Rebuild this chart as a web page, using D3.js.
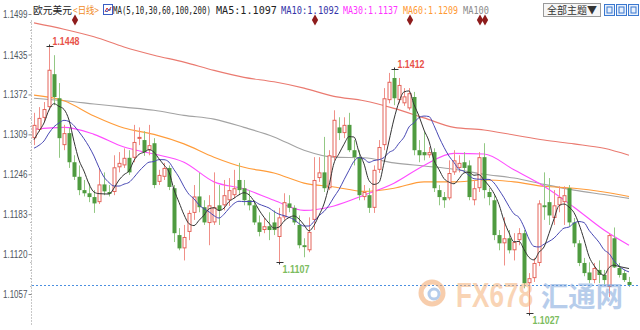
<!DOCTYPE html>
<html>
<head>
<meta charset="utf-8">
<script src="https://cdn.jsdelivr.net/npm/d3@7"></script>
<style>
body { margin: 0; background: #fff; }
svg { display: block; font-family: "Liberation Sans", Arial, sans-serif; }
</style>
</head>
<body>
<div id="chart"></div>
<script>
// EUR/USD daily candles, oldest first: [open, high, low, close]
var candles = [
[1.1303,1.1343,1.1292,1.1324],[1.1316,1.1352,1.1313,1.1335],[1.1335,1.1360,1.1328,1.1349],[1.1352,1.1448,1.1347,1.1411],
[1.1404,1.1434,1.1355,1.1368],[1.1366,1.1390,1.1272,1.1303],[1.1292,1.1324,1.1284,1.1311],[1.1311,1.1319,1.1256,1.1265],
[1.1265,1.1276,1.1237,1.1242],[1.1242,1.1260,1.1213,1.1221],[1.1221,1.1237,1.1211,1.1216],[1.1216,1.1232,1.1202,1.1210],
[1.1210,1.1221,1.1185,1.1200],[1.1202,1.1256,1.1199,1.1230],[1.1230,1.1249,1.1213,1.1219],[1.1218,1.1229,1.1211,1.1215],
[1.1218,1.1276,1.1213,1.1257],[1.1257,1.1281,1.1249,1.1264],[1.1260,1.1287,1.1256,1.1272],[1.1272,1.1284,1.1245,1.1249],
[1.1272,1.1324,1.1265,1.1297],[1.1302,1.1320,1.1292,1.1305],[1.1300,1.1314,1.1275,1.1281],[1.1284,1.1324,1.1276,1.1292],
[1.1295,1.1303,1.1224,1.1229],[1.1234,1.1253,1.1229,1.1245],[1.1242,1.1264,1.1237,1.1256],[1.1256,1.1260,1.1221,1.1226],
[1.1224,1.1229,1.1139,1.1153],[1.1150,1.1161,1.1126,1.1129],[1.1129,1.1166,1.1110,1.1147],[1.1155,1.1189,1.1142,1.1185],
[1.1185,1.1229,1.1174,1.1211],[1.1211,1.1248,1.1186,1.1194],[1.1194,1.1205,1.1166,1.1170],[1.1169,1.1213,1.1134,1.1197],
[1.1170,1.1249,1.1166,1.1194],[1.1197,1.1229,1.1166,1.1189],[1.1197,1.1237,1.1189,1.1213],[1.1205,1.1240,1.1196,1.1221],
[1.1213,1.1253,1.1208,1.1224],[1.1237,1.1264,1.1213,1.1221],[1.1224,1.1237,1.1197,1.1205],[1.1205,1.1221,1.1189,1.1197],
[1.1197,1.1205,1.1166,1.1170],[1.1170,1.1181,1.1148,1.1155],[1.1158,1.1177,1.1153,1.1164],[1.1164,1.1186,1.1142,1.1158],
[1.1170,1.1189,1.1150,1.1158],[1.1147,1.1193,1.1107,1.1178],[1.1178,1.1216,1.1174,1.1202],[1.1200,1.1213,1.1186,1.1193],
[1.1193,1.1197,1.1166,1.1170],[1.1166,1.1181,1.1129,1.1134],[1.1134,1.1145,1.1115,1.1131],[1.1126,1.1178,1.1123,1.1155],
[1.1174,1.1273,1.1158,1.1237],[1.1240,1.1273,1.1234,1.1249],[1.1249,1.1305,1.1218,1.1224],[1.1224,1.1284,1.1221,1.1276],
[1.1273,1.1347,1.1268,1.1332],[1.1320,1.1336,1.1300,1.1311],[1.1311,1.1336,1.1303,1.1324],[1.1324,1.1343,1.1281,1.1284],
[1.1284,1.1300,1.1260,1.1273],[1.1273,1.1284,1.1205,1.1213],[1.1210,1.1229,1.1205,1.1218],[1.1213,1.1224,1.1185,1.1193],
[1.1193,1.1260,1.1185,1.1253],[1.1253,1.1300,1.1248,1.1289],[1.1292,1.1382,1.1284,1.1366],[1.1363,1.1406,1.1358,1.1392],
[1.1398,1.1412,1.1355,1.1366],[1.1363,1.1398,1.1358,1.1387],[1.1358,1.1382,1.1354,1.1369],[1.1350,1.1382,1.1347,1.1374],
[1.1368,1.1376,1.1276,1.1284],[1.1284,1.1300,1.1265,1.1276],[1.1281,1.1313,1.1268,1.1276],[1.1276,1.1289,1.1272,1.1281],
[1.1281,1.1287,1.1218,1.1224],[1.1221,1.1229,1.1197,1.1210],[1.1210,1.1218,1.1193,1.1205],[1.1208,1.1268,1.1205,1.1248],
[1.1249,1.1284,1.1245,1.1268],[1.1256,1.1276,1.1249,1.1264],[1.1265,1.1281,1.1249,1.1256],[1.1260,1.1268,1.1205,1.1210],
[1.1205,1.1237,1.1197,1.1224],[1.1224,1.1281,1.1218,1.1273],[1.1273,1.1295,1.1208,1.1221],[1.1218,1.1224,1.1197,1.1210],
[1.1205,1.1213,1.1142,1.1150],[1.1150,1.1158,1.1126,1.1137],[1.1137,1.1178,1.1102,1.1145],[1.1145,1.1158,1.1121,1.1126],
[1.1126,1.1153,1.1110,1.1139],[1.1142,1.1161,1.1134,1.1153],[1.1153,1.1158,1.1066,1.1074],[1.1074,1.1090,1.1027,1.1082],
[1.1082,1.1114,1.1076,1.1106],[1.1106,1.1205,1.1101,1.1200],[1.1197,1.1249,1.1174,1.1194],[1.1202,1.1240,1.1166,1.1181],
[1.1177,1.1221,1.1166,1.1197],[1.1197,1.1227,1.1186,1.1210],[1.1202,1.1227,1.1166,1.1213],[1.1224,1.1229,1.1164,1.1170],
[1.1170,1.1177,1.1131,1.1137],[1.1137,1.1142,1.1101,1.1106],[1.1106,1.1114,1.1085,1.1090],[1.1091,1.1107,1.1074,1.1079],
[1.1079,1.1106,1.1074,1.1098],[1.1095,1.1110,1.1074,1.1087],[1.1087,1.1095,1.1072,1.1079],[1.1068,1.1153,1.1052,1.1150],
[1.1145,1.1162,1.1098,1.1099],[1.1098,1.1106,1.1083,1.1087],[1.1090,1.1095,1.1076,1.1079],[1.1076,1.1084,1.1068,1.1071]
];

// closes of the nine days before the first visible candle (feed MA5 / MA10)
var priorCloses = [1.1290, 1.1280, 1.1286, 1.1268, 1.1245, 1.1268, 1.1284, 1.1308, 1.1319];

// long moving averages at these candle indexes
var maDays  = [0, 6, 12, 18, 24, 30, 36, 42, 48, 54, 60, 66, 72, 78, 84, 90, 96, 102, 108, 114, 119];
var ma30  = [1.1317,1.1320,1.1309,1.1289,1.1278,1.1265,1.1234,1.1223,1.1205,1.1189,1.1196,1.1213,1.1232,1.1260,1.1279,1.1278,1.1253,1.1227,1.1194,1.1158,1.1134];
var ma60  = [1.1371,1.1362,1.1338,1.1319,1.1309,1.1294,1.1273,1.1257,1.1248,1.1232,1.1226,1.1219,1.1224,1.1234,1.1234,1.1237,1.1234,1.1227,1.1224,1.1218,1.1211];
var ma100 = [1.1366,1.1362,1.1357,1.1352,1.1347,1.1339,1.1333,1.1320,1.1305,1.1284,1.1273,1.1272,1.1264,1.1259,1.1254,1.1246,1.1240,1.1230,1.1221,1.1214,1.1208];
var ma200 = [1.1485,1.1475,1.1463,1.1447,1.1434,1.1423,1.1410,1.1399,1.1392,1.1382,1.1369,1.1362,1.1350,1.1335,1.1320,1.1316,1.1308,1.1300,1.1294,1.1287,1.1276];

var yTicks = [1.1499, 1.1435, 1.1372, 1.1309, 1.1246, 1.1183, 1.1120, 1.1057];
var highDays = [3, 72];
var lowDays = [49, 99];
var eventDays = [8, 56, 75, 89, 90];

var titleLabels = ["欧元美元", "<日线>", "MA(5,10,30,60,100,200)", "MA5:1.1097", "MA10:1.1092", "MA30:1.1137", "MA60:1.1209", "MA100"];
var titleColors = ["#222", "#f08a24", "#222", "#222", "#3434a8", "#ff33ff", "#ff9933", "#8c8c8c"];
var titleSpans  = [[33, 72], [73, 99], [113, 211], [216, 277], [281, 339], [343, 398], [403, 458], [463, 489]];

var W = 640, H = 330;
var svg = d3.select("#chart").append("svg").attr("width", W).attr("height", H);
svg.append("rect").attr("width", W).attr("height", H).attr("fill", "#fff");

var x = d3.scaleLinear().domain([0, candles.length - 1]).range([34, 629]);
var y = d3.scaleLinear().domain([1.1057, 1.1499]).range([294, 14]);

// squeeze a text horizontally so it spans exactly x0..x1
function fitText(sel, x0, x1, baseline) {
    var len = sel.node().getComputedTextLength();
    sel.attr("x", 0).attr("y", 0)
       .attr("transform", "translate(" + x0 + "," + baseline + ") scale(" + ((x1 - x0) / len) + ",1)");
    return sel;
}

// axis
var axisX = 31;
svg.append("line")
    .attr("x1", axisX + 0.5).attr("x2", axisX + 0.5)
    .attr("y1", 20).attr("y2", 326)
    .attr("stroke", "#c8c8c8").attr("stroke-dasharray", "2,1");

var minor = [];
for (var k = 0; k < yTicks.length - 1; k++) {
    var step = (yTicks[k] - yTicks[k + 1]) / 5;
    for (var m = 1; m < 5; m++) minor.push(yTicks[k] - m * step);
}
svg.append("g").selectAll("line").data(minor).enter().append("line")
    .attr("x1", axisX - 1).attr("x2", axisX + 0.5)
    .attr("y1", function(d){ return Math.round(y(d)) + 0.5; })
    .attr("y2", function(d){ return Math.round(y(d)) + 0.5; })
    .attr("stroke", "#bbb");

var yAxis = d3.axisLeft(y).tickValues(yTicks).tickFormat("").tickSize(3);
var gAxis = svg.append("g").attr("transform", "translate(" + (axisX + 0.5) + ",0)").call(yAxis);
gAxis.select(".domain").remove();
gAxis.selectAll(".tick line").attr("stroke", "#888");

var fmt = d3.format(".4f");
var gLab = svg.append("g");
yTicks.forEach(function(v) {
    var t = gLab.append("text")
        .attr("fill", "#4f5560")
        .style("font-size", "10.5px")
        .text(fmt(v));
    fitText(t, 3, 27.5, y(v) + 4);
});

// moving averages
var closes = priorCloses.concat(candles.map(function(c){ return c[3]; }));
function movingAvg(n) {
    var off = priorCloses.length;
    return candles.map(function(c, i) {
        return d3.mean(closes.slice(off + i - n + 1, off + i + 1));
    });
}
var ma5 = movingAvg(5), ma10 = movingAvg(10);

var lineIdx = d3.line().x(function(d, i){ return x(i); }).y(function(d){ return y(d); }).curve(d3.curveMonotoneX);
var lineSampled = d3.line().x(function(d, i){ return x(maDays[i]); }).y(function(d){ return y(d); }).curve(d3.curveMonotoneX);

var longMas = [[ma200, "#ea7a70"], [ma100, "#a3a3a3"], [ma60, "#ff9c3a"], [ma30, "#ff4cff"]];
longMas.forEach(function(s) {
    svg.append("path").attr("d", lineSampled(s[0])).attr("fill", "none").attr("stroke", s[1]).attr("stroke-width", 1.1);
});

// candles
var gC = svg.append("g");
var up = function(c){ return c[3] >= c[0]; };
gC.selectAll("line").data(candles).enter().append("line")
    .attr("x1", function(d, i){ return Math.round(x(i)) + 0.5; })
    .attr("x2", function(d, i){ return Math.round(x(i)) + 0.5; })
    .attr("y1", function(d){ return y(d[1]); })
    .attr("y2", function(d){ return y(d[2]); })
    .attr("stroke", function(d){ return up(d) ? "#f09088" : "#93c884"; });

gC.selectAll("rect").data(candles).enter().append("rect")
    .attr("x", function(d, i){ return up(d) ? Math.round(x(i)) - 1 : Math.round(x(i)) - 1.5; })
    .attr("width", function(d){ return up(d) ? 3 : 4; })
    .attr("y", function(d){ return y(Math.max(d[0], d[3])) + (up(d) ? 0.5 : 0); })
    .attr("height", function(d){ return Math.max(1, Math.abs(y(d[0]) - y(d[3])) - (up(d) ? 1 : 0)); })
    .attr("fill", function(d){ return up(d) ? "#fff" : "#4f9b40"; })
    .attr("stroke", function(d){ return up(d) ? "#e4645a" : "none"; });

svg.append("path").attr("d", lineIdx(ma10)).attr("fill", "none").attr("stroke", "#4848b4").attr("stroke-width", 1);
svg.append("path").attr("d", lineIdx(ma5)).attr("fill", "none").attr("stroke", "#333").attr("stroke-width", 1);

// last close line
var last = candles[candles.length - 1][3];
svg.append("line")
    .attr("x1", axisX + 1).attr("x2", W)
    .attr("y1", Math.round(y(last)) + 0.5).attr("y2", Math.round(y(last)) + 0.5)
    .attr("stroke", "#4b8fe0").attr("stroke-dasharray", "2,2");

// high / low labels
function mark(i, v, isHigh) {
    var px = Math.round(x(i)) + 0.5, py = Math.round(y(v)) + 0.5;
    svg.append("line").attr("x1", px - 3).attr("x2", px + 4).attr("y1", py).attr("y2", py).attr("stroke", "#333");
    svg.append("line").attr("x1", px).attr("x2", px).attr("y1", py).attr("y2", isHigh ? py - 2 : py + 2).attr("stroke", "#333");
    var t = svg.append("text")
        .attr("fill", isHigh ? "#e8524a" : "#7cbc5e")
        .style("font-size", "11px").style("font-weight", "bold")
        .text(fmt(v));
    fitText(t, px + 3, px + 30, isHigh ? py - 2 : py + 10);
}
highDays.forEach(function(i){ mark(i, candles[i][1], true); });
lowDays.forEach(function(i){ mark(i, candles[i][2], false); });

// event markers on the top row
svg.append("g").selectAll("path").data(eventDays).enter().append("path")
    .attr("transform", function(d){ return "translate(" + (x(d) + 1) + ",20)"; })
    .attr("d", d3.symbol().type(d3.symbolDiamond).size(34))
    .attr("fill", "#8e1c1c");

// header
var gT = svg.append("g");
titleLabels.forEach(function(t, k) {
    var el = gT.append("text")
        .attr("fill", titleColors[k])
        .style("font-size", k < 2 ? "10.5px" : "11px")
        .style("font-family", k < 2 ? "'Noto Sans CJK SC', sans-serif" : "'DejaVu Sans Mono', monospace")
        .text(t);
    fitText(el, titleSpans[k][0], titleSpans[k][1], 14);
});
// small MA icon
var ic = gT.append("g").attr("transform", "translate(103,4)");
ic.append("rect").attr("x", 0.5).attr("y", 0.5).attr("width", 9).attr("height", 10).attr("fill", "#fff").attr("stroke", "#3a5ec4");
ic.append("path").attr("d", "M2,8 L4,4 L6,7 L8,3").attr("fill", "none").attr("stroke", "#d03030");
ic.append("path").attr("d", "M2,6 L4,8 L6,5 L8,6").attr("fill", "none").attr("stroke", "#3a5ec4");

// theme button and tool icons
var gB = svg.append("g");
gB.append("rect").attr("x", 543.5).attr("y", 3.5).attr("width", 57).attr("height", 13)
    .attr("fill", "#f6f6f6").attr("stroke", "#9a9a9a");
var bt = gB.append("text").attr("fill", "#333")
    .style("font-size", "10.5px").style("font-family", "'Noto Sans CJK SC', sans-serif").text("全部主题▼");
fitText(bt, 547, 597, 14);
[604, 616, 628].forEach(function(px) {
    gB.append("rect").attr("x", px + 0.5).attr("y", 4.5).attr("width", 10).attr("height", 11)
        .attr("fill", "#e8f0fb").attr("stroke", "#3a78d0");
    gB.append("rect").attr("x", px + 3).attr("y", 7).attr("width", 5).attr("height", 6)
        .attr("fill", "none").attr("stroke", "#3a78d0");
});

// watermark
var gW = svg.append("g").attr("opacity", 0.55);
gW.append("circle").attr("cx", 432).attr("cy", 293).attr("r", 11).attr("fill", "none").attr("stroke", "#f2a66a").attr("stroke-width", 5);
gW.append("circle").attr("cx", 434).attr("cy", 294).attr("r", 5).attr("fill", "none").attr("stroke", "#7aa4dc").attr("stroke-width", 3);
var w1 = gW.append("text").attr("fill", "#f5b27a")
    .style("font-size", "35px").style("font-weight", "bold").text("FX678");
fitText(w1, 456, 533, 307);
var w2 = gW.append("text").attr("fill", "#7ea6dc")
    .style("font-size", "28px").style("font-weight", "bold").style("font-family", "'Noto Sans CJK SC', sans-serif").text("汇通网");
fitText(w2, 541, 623, 307);
</script>
</body>
</html>
